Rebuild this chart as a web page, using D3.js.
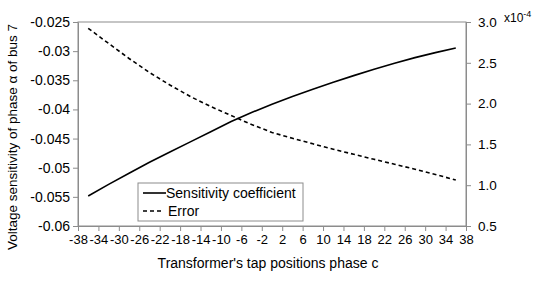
<!DOCTYPE html>
<html>
<head>
<meta charset="utf-8">
<script src="https://cdn.jsdelivr.net/npm/d3@7"></script>
<style>
  body { margin: 0; background: #fff; }
  text { font-family: "Liberation Sans", Arial, sans-serif; fill: #000; }
</style>
</head>
<body>
<svg id="chart" width="538" height="289"></svg>
<script>
// tap positions
var taps = [-36, -32, -28, -24, -20, -16, -12, -8, -4, 0, 4, 8, 12, 16, 20, 24, 28, 32, 36];
// sensitivity coefficient (left axis)
var sensitivity = [-0.05485, -0.05286, -0.05094, -0.04907, -0.04729, -0.04557, -0.04384, -0.04207,
  -0.04053, -0.0391, -0.03778, -0.03653, -0.03533, -0.0342, -0.0331, -0.03207, -0.03111, -0.03025, -0.02946];
// error, x10^-4 (right axis)
var errorVals = [2.923, 2.737, 2.553, 2.381, 2.228, 2.087, 1.964, 1.854, 1.744, 1.646,
  1.575, 1.507, 1.441, 1.379, 1.317, 1.257, 1.196, 1.131, 1.064];
var xTicks = [-38, -34, -30, -26, -22, -18, -14, -10, -6, -2, 2, 6, 10, 14, 18, 22, 26, 30, 34, 38];
var leftTicks = [-0.06, -0.055, -0.05, -0.045, -0.04, -0.035, -0.03, -0.025];
var rightTicks = [0.5, 1.0, 1.5, 2.0, 2.5, 3.0];

var svg = d3.select("#chart");
var pLeft = 78, pRight = 466, pTop = 22, pBottom = 226;
var axisColor = "#8c8c8c";

var xScale = d3.scaleLinear().domain([-38, 38]).range([pLeft, pRight]);
var yLeft = d3.scaleLinear().domain([-0.06, -0.025]).range([pBottom, pTop]);
var yRight = d3.scaleLinear().domain([0.5, 3.0]).range([pBottom, pTop]);

// plot border
svg.append("rect")
  .attr("x", pLeft).attr("y", pTop)
  .attr("width", pRight - pLeft).attr("height", pBottom - pTop)
  .attr("fill", "none").attr("stroke", axisColor).attr("stroke-width", 1);

var styleAxis = function (g, size) {
  g.selectAll("path").attr("stroke", axisColor);
  g.selectAll("line").attr("stroke", axisColor);
  g.selectAll("text").attr("font-size", size).attr("fill", "#000")
    .style("font-family", "Liberation Sans, Arial, sans-serif");
};

var xAxis = svg.append("g")
  .attr("transform", "translate(0," + pBottom + ")")
  .call(d3.axisBottom(xScale).tickValues(xTicks).tickSize(5).tickPadding(4)
    .tickFormat(function (d) { return d; }).tickSizeOuter(0));
styleAxis(xAxis, "13px");

var lAxis = svg.append("g")
  .attr("transform", "translate(" + pLeft + ",0)")
  .call(d3.axisLeft(yLeft).tickValues(leftTicks).tickSize(5).tickPadding(3)
    .tickFormat(function (d) { return String(+d.toFixed(3)); }).tickSizeOuter(0));
styleAxis(lAxis, "14px");

var rAxis = svg.append("g")
  .attr("transform", "translate(" + pRight + ",0)")
  .call(d3.axisRight(yRight).tickValues(rightTicks).tickSize(5).tickPadding(7)
    .tickFormat(d3.format(".1f")).tickSizeOuter(0));
styleAxis(rAxis, "13.5px");

// exponent label
var expo = svg.append("text").attr("x", 504).attr("y", 22).attr("font-size", "12px");
expo.append("tspan").text("x10");
expo.append("tspan").attr("dy", -5).attr("font-size", "9px").text("-4");

// lines
var sensLine = d3.line()
  .x(function (d, i) { return xScale(taps[i]); })
  .y(function (d) { return yLeft(d); });
var errLine = d3.line()
  .x(function (d, i) { return xScale(taps[i]); })
  .y(function (d) { return yRight(d); });

svg.append("path").datum(sensitivity)
  .attr("d", sensLine).attr("fill", "none")
  .attr("stroke", "#000").attr("stroke-width", 1.6);
svg.append("path").datum(errorVals)
  .attr("d", errLine).attr("fill", "none")
  .attr("stroke", "#000").attr("stroke-width", 1.6)
  .attr("stroke-dasharray", "4,3");

// legend
var lg = svg.append("g");
lg.append("rect").attr("x", 138).attr("y", 183).attr("width", 165).attr("height", 38)
  .attr("fill", "#fff").attr("stroke", axisColor);
lg.append("line").attr("x1", 143).attr("x2", 166).attr("y1", 193).attr("y2", 193)
  .attr("stroke", "#000").attr("stroke-width", 1.6);
lg.append("text").attr("x", 166).attr("y", 198).attr("font-size", "14px").text("Sensitivity coefficient");
lg.append("line").attr("x1", 143).attr("x2", 164).attr("y1", 211).attr("y2", 211)
  .attr("stroke", "#000").attr("stroke-width", 1.6).attr("stroke-dasharray", "4,3");
lg.append("text").attr("x", 168).attr("y", 216).attr("font-size", "14px").text("Error");

// axis titles
svg.append("text")
  .attr("x", 268).attr("y", 268)
  .attr("text-anchor", "middle").attr("font-size", "14px")
  .text("Transformer's tap positions phase c");
svg.append("text")
  .attr("transform", "translate(17,137) rotate(-90)")
  .attr("text-anchor", "middle").attr("font-size", "13.5px")
  .text("Voltage sensitivity of phase α of bus 7");
</script>
</body>
</html>
